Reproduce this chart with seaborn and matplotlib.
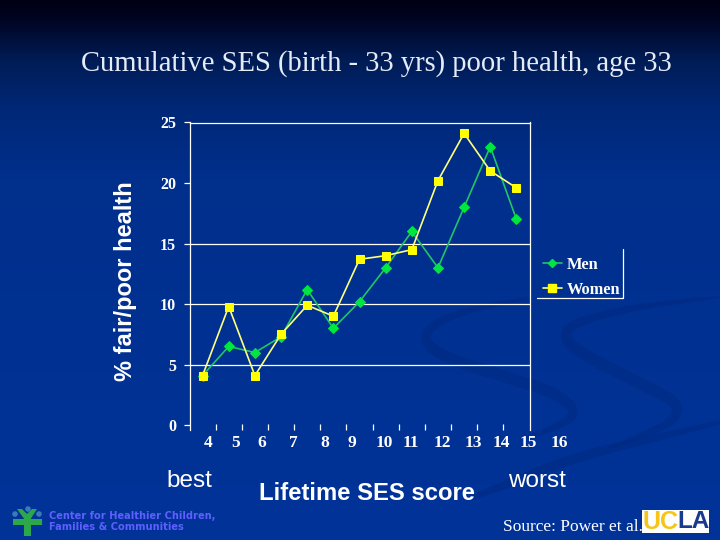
import numpy as np
import pandas as pd
import seaborn as sns
import matplotlib.pyplot as plt
from matplotlib.lines import Line2D
from matplotlib.patches import Polygon, Rectangle, Circle

scores = [4, 5, 6, 7, 8, 9, 10, 11, 12, 13, 14, 15, 16]
men = [4.1, 6.5, 6.0, 7.3, 11.2, 8.0, 10.2, 13.0, 16.0, 13.0, 18.0, 23.0, 17.0]
women = [4.1, 9.8, 4.1, 7.5, 9.9, 9.0, 13.7, 14.0, 14.5, 20.2, 24.1, 21.0, 19.6]
y_ticks = [0, 5, 10, 15, 20, 25]
grid_levels = [5, 10, 15]

W, H = 720, 540
SERIF = "Liberation Serif"
SANS = "Liberation Sans"
GREEN = "#00e640"
YELLOW = "#ffff00"


def fx(x):
    return x / W


def fy(y):
    return 1 - y / H


def ribbon(pts, width):
    # smooth a control line, then give it a tapered width
    p = np.array(pts, dtype=float)
    for _ in range(4):
        q = 0.75 * p[:-1] + 0.25 * p[1:]
        r = 0.25 * p[:-1] + 0.75 * p[1:]
        p = np.vstack([p[:1], np.column_stack([q, r]).reshape(-1, 2), p[-1:]])
    d = np.gradient(p, axis=0)
    n = np.column_stack([-d[:, 1], d[:, 0]]) / np.linalg.norm(d, axis=1, keepdims=True)
    w = width * np.sin(np.linspace(0.1, np.pi - 0.1, len(p)))[:, None] / 2
    return np.vstack([p + n * w, (p - n * w)[::-1]])


df = pd.DataFrame({"score": scores, "Men": men, "Women": women})
long_df = df.melt("score", var_name="sex", value_name="pct")

sns.set_theme(style="white")
fig = plt.figure(figsize=(7.2, 5.4), dpi=100)

# slide background
bg = fig.add_axes([0, 0, 1, 1], zorder=0)
bg.set_axis_off()
rows = np.arange(H)
stops = [0, 20, 60, 110, 180, 540]
img = np.column_stack([
    np.interp(rows, stops, [0, 0, 0, 0, 0, 0]),
    np.interp(rows, stops, [0, 5, 28, 40, 47, 51]),
    np.interp(rows, stops, [20, 35, 85, 120, 140, 153]),
])[:, None, :] / 255
bg.imshow(img, extent=[0, W, H, 0], aspect="auto")
bg.set_xlim(0, W)
bg.set_ylim(H, 0)
swooshes = [
    ([(530, 298), (457, 312), (420, 333), (437, 355), (500, 375), (557, 393), (578, 413), (557, 427), (520, 440)], 12),
    ([(720, 297), (633, 307), (573, 323), (563, 337), (580, 353), (633, 380), (680, 403), (673, 422), (647, 433), (610, 448)], 12),
    ([(730, 420), (633, 443), (567, 460), (500, 487), (465, 500)], 10),
]
for pts, width in swooshes:
    bg.add_patch(Polygon(ribbon(pts, width), closed=True, fc="#002a80", ec="none", alpha=0.5))

# chart
ax = fig.add_axes([fx(189.5), fy(430), 340 / W, 307.5 / H], zorder=1)
ax.patch.set_alpha(0)
sns.lineplot(data=long_df, x="score", y="pct", hue="sex", style="sex",
             palette={"Men": "#22c466", "Women": "#ffff80"},
             markers={"Men": "D", "Women": "s"}, dashes=False, lw=1.2, ax=ax)
for line, col, size in zip(ax.lines, [GREEN, YELLOW], [4.6, 5.6]):
    line.set_markerfacecolor(col)
    line.set_markeredgecolor(col)
    line.set_markersize(size)
ax.set_xlim(3.5, 16.5)
ax.set_ylim(-0.4, 25)
ax.set_xlabel("")
ax.set_ylabel("")
for s in ["left", "right", "top"]:
    ax.spines[s].set_color("white")
    ax.spines[s].set_linewidth(0.9)
ax.spines["bottom"].set_visible(False)
for level in grid_levels:
    ax.axhline(level, color="white", lw=0.9, zorder=0.5)
ax.set_yticks(y_ticks)
ax.set_yticklabels([str(v) for v in y_ticks], color="white", fontsize=11.5,
                   family=SERIF, weight="bold")
ax.tick_params(axis="y", left=True, length=4, width=0.9, color="white", pad=5.5)
ax.set_xticks(np.arange(4.5, 16.5, 1))
ax.set_xticklabels([])
ax.tick_params(axis="x", bottom=True, direction="in", length=4.5, width=0.9, color="white")

# the score labels sit off their ticks in the slide
label_x = [208, 236, 262, 293, 325, 352, 384, 411, 442, 473, 501, 528, 559]
for x, s in zip(label_x, scores):
    fig.text(fx(x), fy(443), str(s), color="white", fontsize=12.5, family=SERIF,
             weight="bold", ha="center", va="center")

handles = [Line2D([], [], color=c, marker=m, ms=ms, mfc=f, mec=f, lw=1.2)
           for c, m, ms, f in [("#22c466", "D", 4.4, GREEN), ("#ffff80", "s", 5.6, YELLOW)]]
leg = ax.legend(handles, ["Men", "Women"], loc="center left", frameon=False,
                handlelength=1.15, handletextpad=0.3, labelspacing=0.55,
                prop={"family": SERIF, "weight": "bold", "size": 11.8}, labelcolor="white")
leg.set_bbox_to_anchor((fx(528), fy(277.5)), transform=fig.transFigure)
fig.add_artist(Line2D([fx(622.5), fx(622.5), fx(537)], [fy(249), fy(298), fy(298)],
                      color="white", lw=0.9, zorder=3))

fig.text(fx(376), fy(64), "Cumulative SES (birth - 33 yrs) poor health, age 33", color="#e6ebf8",
         fontsize=20.6, family=SERIF, ha="center", va="center")
fig.text(fx(126), fy(281), "% fair/poor health", color="white", fontsize=17, family=SANS,
         weight="bold", rotation=90, ha="center", va="center")
fig.text(fx(189), fy(481), "best", color="white", fontsize=17.5, family=SANS, ha="center", va="center")
fig.text(fx(367), fy(493), "Lifetime SES score", color="white", fontsize=17.2, family=SANS,
         weight="bold", ha="center", va="center")
fig.text(fx(537), fy(481), "worst", color="white", fontsize=17.5, family=SANS, ha="center", va="center")
fig.text(fx(503), fy(527), "Source: Power et al.", color="white", fontsize=12.5, family=SERIF,
         ha="left", va="center", zorder=2)

# logos
over = fig.add_axes([0, 0, 1, 1], zorder=4)
over.set_axis_off()
over.patch.set_alpha(0)
over.set_xlim(0, W)
over.set_ylim(H, 0)
over.add_patch(Rectangle((642, 510), 67, 23, fc="white", ec="none"))
over.text(643, 522, "UC", color="#f5c518", fontsize=18, family=SANS, weight="bold", va="center")
over.text(677, 522, "LA", color="#1a3a8f", fontsize=17.5, family=SANS, weight="bold", va="center")
lg = "#2aa84a"
over.add_patch(Rectangle((24, 518), 7, 18, fc=lg, ec="none"))
over.add_patch(Polygon([(13, 519), (42, 519), (42, 525), (31, 525), (31, 529), (24, 529), (24, 525), (13, 525)], fc=lg, ec="none"))
over.add_patch(Polygon([(17, 509), (22, 509), (27, 514), (32, 509), (37, 509), (30, 520), (25, 520)], fc=lg, ec="none"))
for cx, cy in [(15, 514), (28, 509), (39, 514)]:
    over.add_patch(Circle((cx, cy), 2.8, fc="#3a7ab8", ec="none"))
for y, txt in [(516, "Center for Healthier Children,"), (527, "Families & Communities")]:
    over.text(49, y, txt, color="#5f5fff", fontsize=7.1, family="DejaVu Sans", weight="bold", va="center")

fig.savefig("out.png", dpi=100)
